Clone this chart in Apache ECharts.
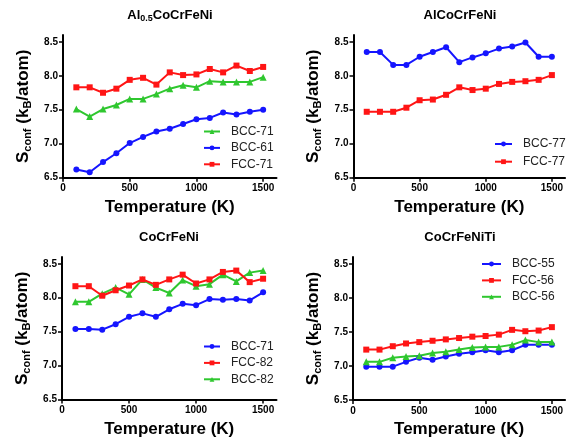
<!DOCTYPE html>
<html>
<head>
<meta charset="utf-8">
<script src="https://cdn.jsdelivr.net/npm/echarts@6/dist/echarts.min.js"></script>
<style>
  html, body { margin: 0; padding: 0; background: #fff; }
  #chart { width: 566px; height: 445px; }
</style>
</head>
<body>
<div id="chart"></div>
<script>
// temperatures (K)
var temps = [100, 200, 300, 400, 500, 600, 700, 800, 900, 1000, 1100, 1200, 1300, 1400, 1500]
var xTicks = [0, 500, 1000, 1500]
var yTicks = [6.5, 7.0, 7.5, 8.0, 8.5]

// Al0.5CoCrFeNi
var al05_bcc71 = [7.51, 7.40, 7.51, 7.57, 7.66, 7.66, 7.73, 7.81, 7.86, 7.83, 7.92, 7.91, 7.91, 7.91, 7.98]
var al05_bcc61 = [6.62, 6.58, 6.73, 6.86, 7.01, 7.10, 7.18, 7.22, 7.29, 7.36, 7.38, 7.46, 7.43, 7.47, 7.50]
var al05_fcc71 = [7.83, 7.83, 7.75, 7.81, 7.94, 7.97, 7.87, 8.05, 8.01, 8.02, 8.10, 8.05, 8.15, 8.07, 8.13]
// AlCoCrFeNi
var al1_bcc77 = [8.35, 8.35, 8.16, 8.16, 8.28, 8.35, 8.42, 8.20, 8.27, 8.33, 8.40, 8.43, 8.49, 8.28, 8.28]
var al1_fcc77 = [7.47, 7.47, 7.47, 7.53, 7.64, 7.65, 7.72, 7.83, 7.79, 7.81, 7.88, 7.91, 7.92, 7.94, 8.01]
// CoCrFeNi
var cr_bcc71 = [7.54, 7.54, 7.53, 7.61, 7.72, 7.77, 7.72, 7.83, 7.91, 7.89, 7.98, 7.97, 7.98, 7.96, 8.08]
var cr_fcc82 = [8.17, 8.17, 8.03, 8.11, 8.18, 8.27, 8.19, 8.27, 8.34, 8.21, 8.27, 8.38, 8.40, 8.23, 8.28]
var cr_bcc82 = [7.94, 7.94, 8.06, 8.15, 8.05, 8.27, 8.15, 8.07, 8.26, 8.17, 8.20, 8.34, 8.24, 8.37, 8.40]
// CoCrFeNiTi
var ti_bcc55 = [6.99, 6.99, 6.99, 7.06, 7.12, 7.09, 7.14, 7.18, 7.20, 7.23, 7.20, 7.23, 7.31, 7.31, 7.31]
var ti_fcc56 = [7.24, 7.24, 7.29, 7.33, 7.35, 7.37, 7.39, 7.41, 7.43, 7.44, 7.46, 7.53, 7.51, 7.52, 7.57]
var ti_bcc56 = [7.06, 7.06, 7.12, 7.14, 7.15, 7.19, 7.21, 7.24, 7.27, 7.28, 7.28, 7.31, 7.38, 7.35, 7.35]

var BLUE = '#1515ff', RED = '#ff1515', GREEN = '#2fc72f'
var FONT = 'Liberation Sans'

var grids = [
    { left: 63, top: 35, width: 213.5, height: 142.7 },
    { left: 353.5, top: 35, width: 213.3, height: 142.7 },
    { left: 62, top: 257, width: 214.5, height: 142.6 },
    { left: 353, top: 257, width: 213.3, height: 143 }
]

function xAxisFor(i) {
    return {
        gridIndex: i, type: 'value', min: 0, max: 1600,
        name: 'Temperature (K)', nameLocation: 'middle', nameGap: 21,
        nameTextStyle: { fontFamily: FONT, fontWeight: 'bold', fontSize: 17, color: '#000' },
        axisLine: { lineStyle: { color: '#000', width: 2 } },
        axisTick: { length: 4, lineStyle: { color: '#000', width: 1.5 }, customValues: xTicks },
        axisLabel: {
            customValues: xTicks, margin: 6, fontFamily: FONT, fontWeight: 'bold', fontSize: 10, color: '#000',
            formatter: function (v) { return String(v) }
        },
        splitLine: { show: false }
    }
}

function yAxisFor(i) {
    return {
        gridIndex: i, type: 'value', min: 6.5, max: 8.6,
        name: '{b|S}{s|conf}{b| (k}{s|B}{b|/atom)}', nameLocation: 'middle', nameGap: 30,
        nameTextStyle: {
            fontFamily: FONT, fontWeight: 'bold', fontSize: 17, color: '#000',
            rich: {
                b: { fontFamily: FONT, fontWeight: 'bold', fontSize: 17, lineHeight: 20, color: '#000' },
                s: { fontFamily: FONT, fontWeight: 'bold', fontSize: 11, lineHeight: 11, verticalAlign: 'bottom', color: '#000' }
            }
        },
        axisLine: { lineStyle: { color: '#000', width: 2 } },
        axisTick: { length: 4, lineStyle: { color: '#000', width: 1.5 }, customValues: yTicks },
        axisLabel: {
            customValues: yTicks, margin: 5, fontFamily: FONT, fontWeight: 'bold', fontSize: 10, color: '#000',
            formatter: function (v) { return v.toFixed(1) }
        },
        splitLine: { show: false }
    }
}

function line(name, vals, i, color, symbol, size) {
    return {
        name: name, type: 'line', xAxisIndex: i, yAxisIndex: i,
        data: temps.map(function (t, k) { return [t, vals[k]] }),
        symbol: symbol, symbolSize: size,
        lineStyle: { color: color, width: 2 },
        itemStyle: { color: color },
        animation: false
    }
}

function legendFor(names, left, top, gap, w) {
    return {
        orient: 'vertical', left: left, top: top, padding: 0,
        itemWidth: w, itemHeight: 6, itemGap: gap,
        data: names,
        textStyle: { fontFamily: FONT, fontSize: 12, color: '#222', padding: [0, 0, 0, 6] }
    }
}

function titleFor(rich, x, y) {
    return {
        text: rich, left: x, top: y, textAlign: 'center', padding: 0,
        textStyle: {
            fontFamily: FONT, fontWeight: 'bold', fontSize: 13, color: '#000',
            rich: {
                b: { fontFamily: FONT, fontWeight: 'bold', fontSize: 13, lineHeight: 16, color: '#000' },
                s: { fontFamily: FONT, fontWeight: 'bold', fontSize: 9, lineHeight: 9, verticalAlign: 'bottom', color: '#000' }
            }
        }
    }
}

var chart = echarts.init(document.getElementById('chart'))
chart.setOption({
    backgroundColor: '#fff',
    animation: false,
    title: [
        titleFor('{b|Al}{s|0.5}{b|CoCrFeNi}', 170, 7),
        titleFor('{b|AlCoCrFeNi}', 460, 7),
        titleFor('{b|CoCrFeNi}', 169, 229),
        titleFor('{b|CoCrFeNiTi}', 460, 229)
    ],
    grid: grids,
    xAxis: [xAxisFor(0), xAxisFor(1), xAxisFor(2), xAxisFor(3)],
    yAxis: [yAxisFor(0), yAxisFor(1), yAxisFor(2), yAxisFor(3)],
    legend: [
        legendFor(['BCC-71', 'BCC-61', 'FCC-71'], 203, 125.5, 4.4, 16),
        legendFor(['BCC-77', 'FCC-77'], 494, 138, 5.7, 17),
        legendFor(['BCC-71 ', 'FCC-82', 'BCC-82 '], 203, 340.5, 4.4, 16),
        legendFor(['BCC-55', 'FCC-56', 'BCC-56'], 481, 258, 4.4, 19)
    ],
    series: [
        line('BCC-61', al05_bcc61, 0, BLUE, 'circle', 6),
        line('BCC-71', al05_bcc71, 0, GREEN, 'triangle', 7),
        line('FCC-71', al05_fcc71, 0, RED, 'rect', 6),

        line('BCC-77', al1_bcc77, 1, BLUE, 'circle', 6),
        line('FCC-77', al1_fcc77, 1, RED, 'rect', 6),

        line('BCC-71 ', cr_bcc71, 2, BLUE, 'circle', 6),
        line('BCC-82 ', cr_bcc82, 2, GREEN, 'triangle', 7),
        line('FCC-82', cr_fcc82, 2, RED, 'rect', 6),

        line('BCC-55', ti_bcc55, 3, BLUE, 'circle', 6),
        line('BCC-56', ti_bcc56, 3, GREEN, 'triangle', 7),
        line('FCC-56', ti_fcc56, 3, RED, 'rect', 6)
    ]
})
</script>
</body>
</html>
